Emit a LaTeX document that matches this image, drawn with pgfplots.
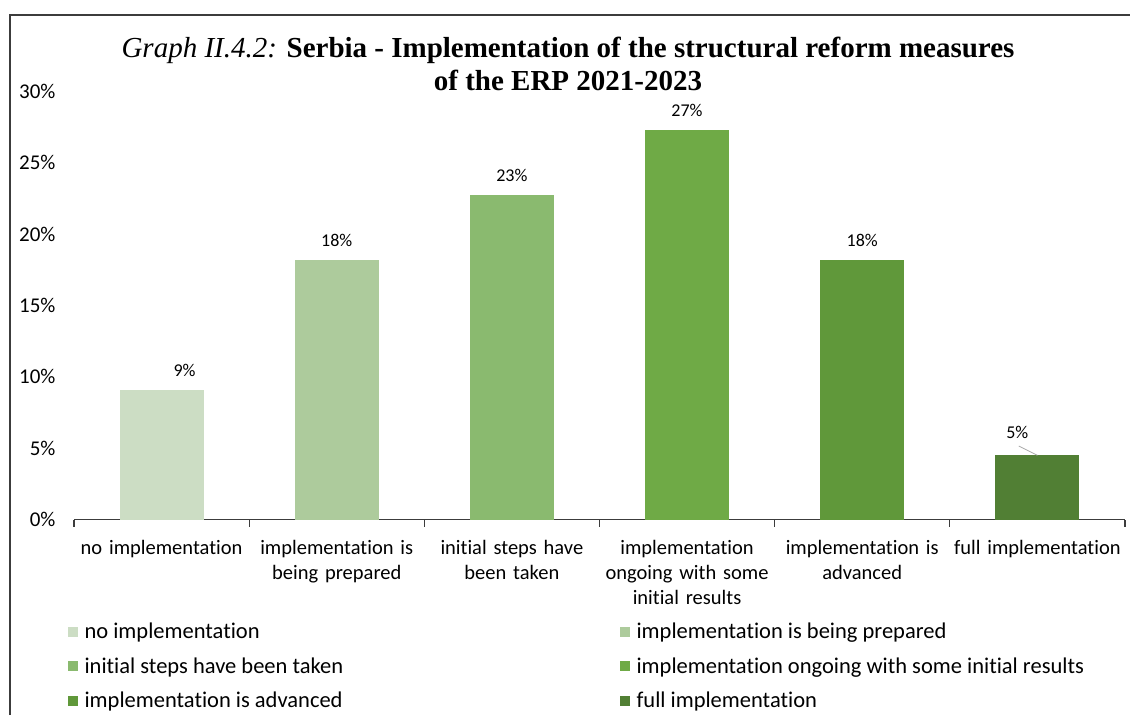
\documentclass[border=0pt]{standalone}
\usepackage{fontspec}
\setmainfont{Carlito}[Ligatures=NoCommon]
\newfontfamily\titlefont{Liberation Serif}
\usepackage{pgfplots}
\pgfplotsset{compat=1.18}

\definecolor{c1}{RGB}{204,221,196}
\definecolor{c2}{RGB}{173,203,156}
\definecolor{c3}{RGB}{138,186,111}
\definecolor{c4}{RGB}{111,170,70}
\definecolor{c5}{RGB}{96,152,58}
\definecolor{c6}{RGB}{81,127,52}
\definecolor{axgray}{RGB}{60,60,60}

% square legend marker, with room before the text
\pgfplotsset{sqlegend/.style={legend image code/.code={\fill[##1] (0pt,-5pt) rectangle (10pt,5pt); \path (15pt,0pt);}}}

\begin{document}
\begin{tikzpicture}
\useasboundingbox (0,0) rectangle (1130pt,-715pt);
% frame of the figure (cut at right and bottom)
\draw[line width=1.5pt, axgray] (10pt,-715pt) -- (10pt,-15pt) -- (1130pt,-15pt);
\node[font=\titlefont\fontsize{29}{32.5}\selectfont, align=center] at (568pt,-64pt)
  {\textit{Graph II.4.2:} \textbf{Serbia - Implementation of the structural reform measures}\\
   \textbf{of the ERP 2021-2023}};

\begin{axis}[
  at={(74pt,-519.5pt)}, anchor=south west,
  scale only axis, width=1051pt, height=428pt,
  xmin=-0.5, xmax=5.5, ymin=0, ymax=30,
  ybar, bar width=0.48, bar shift=0pt,
  axis x line*=bottom, axis y line*=left,
  y axis line style={draw=none},
  x axis line style={line width=1.2pt, axgray, -},
  ytick={0,5,...,30},
  yticklabel={\pgfmathprintnumber{\tick}\%},
  /pgf/number format/assume math mode=true,
  major y tick style={draw=none},
  yticklabel style={font=\fontsize{21}{25}\selectfont, anchor=east, xshift=-15pt},
  xtick={0,...,5},
  xticklabels={no implementation, implementation is\\being prepared, initial steps have\\been taken, implementation\\ongoing with some\\initial results, implementation is\\advanced, full implementation},
  major x tick style={draw=none},
  xticklabel style={font=\fontsize{20.5}{25}\selectfont, text width=172pt, align=center, yshift=-13pt},
  extra x ticks={-0.5,0.5,...,5.5},
  extra x tick labels={},
  extra x tick style={major x tick style={draw=axgray, line width=1.2pt}, major tick length=7pt, tick align=outside},
  nodes near coords style={font=\fontsize{18}{22}\selectfont, yshift=10pt},
  legend columns=2,
  legend cell align=left,
  legend style={at={(-0.0063,-0.2367)}, anchor=north west, draw=none, fill=none, inner sep=0pt,
    row sep=13.5pt, font=\fontsize{22.5}{27}\selectfont},
]
\addplot[fill=c1, draw=none, sqlegend, nodes near coords={9\%},
  every node near coord/.append style={xshift=23pt}] coordinates {(0,9.09)};
\addlegendentry{\makebox[533pt][l]{no implementation}}
\addplot[fill=c2, draw=none, sqlegend, nodes near coords={18\%}] coordinates {(1,18.18)};
\addlegendentry{implementation is being prepared}
\addplot[fill=c3, draw=none, sqlegend, nodes near coords={23\%}] coordinates {(2,22.73)};
\addlegendentry{\makebox[533pt][l]{initial steps have been taken}}
\addplot[fill=c4, draw=none, sqlegend, nodes near coords={27\%}] coordinates {(3,27.27)};
\addlegendentry{implementation ongoing with some initial results}
\addplot[fill=c5, draw=none, sqlegend, nodes near coords={18\%}] coordinates {(4,18.18)};
\addlegendentry{\makebox[533pt][l]{implementation is advanced}}
\addplot[fill=c6, draw=none, sqlegend, nodes near coords={5\%},
  every node near coord/.append style={xshift=-20pt, yshift=2pt}] coordinates {(5,4.55)};
\addlegendentry{full implementation}
% leader line of the last data label
\draw[gray!70, line width=0.8pt] (axis cs:4.894,5.15) -- (axis cs:5.0,4.5);
\end{axis}
\end{tikzpicture}
\end{document}
